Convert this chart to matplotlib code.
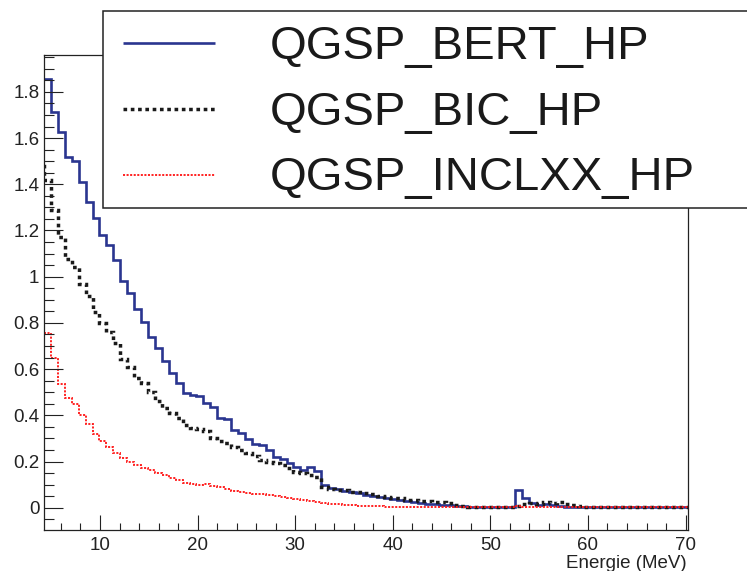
"""Energy spectra for three Geant4 physics lists, ROOT-style step histograms."""
import numpy as np
import matplotlib

matplotlib.use("Agg")
import matplotlib.pyplot as plt
from matplotlib.patches import Rectangle
from matplotlib.ticker import FuncFormatter, MultipleLocator

plt.rcParams["font.family"] = ["Liberation Sans", "DejaVu Sans"]

# 100 bins over 0-71 MeV; bins 5..98 are kept, bin 5 sits just left of the visible range
BIN_WIDTH = 0.71
EDGES = np.round(BIN_WIDTH * np.arange(5, 100), 2)

LABELS = ["QGSP_BERT_HP", "QGSP_BIC_HP", "QGSP_INCLXX_HP"]

BERT_HP = [
    1.856,
    1.856, 1.714, 1.628, 1.517, 1.501, 1.411, 1.325, 1.253, 1.181, 1.137,
    1.071, 0.983, 0.931, 0.859, 0.805, 0.740, 0.690, 0.635, 0.584, 0.538,
    0.498, 0.488, 0.484, 0.455, 0.436, 0.387, 0.385, 0.336, 0.322, 0.298,
    0.277, 0.273, 0.250, 0.221, 0.211, 0.195, 0.178, 0.165, 0.177, 0.157,
    0.098, 0.084, 0.080, 0.074, 0.066, 0.062, 0.055, 0.050, 0.046, 0.041,
    0.038, 0.033, 0.030, 0.026, 0.021, 0.018, 0.015, 0.012, 0.010, 0.008,
    0.007, 0.005, 0.004, 0.004, 0.003, 0.003, 0.002, 0.003, 0.075, 0.040,
    0.020, 0.012, 0.014, 0.010, 0.006, 0.004, 0.003, 0.003, 0.002, 0.003,
    0.002, 0.002, 0.002, 0.001, 0.002, 0.001, 0.001, 0.001, 0.001, 0.001,
    0.001, 0.001, 0.001,
]

BIC_HP = [
    1.487,
    1.420, 1.290, 1.170, 1.075, 1.040, 0.970, 0.915, 0.849, 0.800, 0.762,
    0.713, 0.645, 0.610, 0.560, 0.539, 0.500, 0.460, 0.430, 0.409, 0.387,
    0.358, 0.346, 0.342, 0.330, 0.300, 0.290, 0.279, 0.264, 0.250, 0.235,
    0.222, 0.208, 0.199, 0.192, 0.183, 0.171, 0.156, 0.149, 0.142, 0.134,
    0.091, 0.082, 0.077, 0.075, 0.070, 0.067, 0.062, 0.058, 0.052, 0.048,
    0.043, 0.040, 0.035, 0.032, 0.030, 0.029, 0.026, 0.024, 0.021, 0.012,
    0.007, 0.005, 0.003, 0.002, 0.002, 0.002, 0.002, 0.003, 0.008, 0.015,
    0.020, 0.017, 0.024, 0.020, 0.025, 0.018, 0.013, 0.008, 0.003, 0.002,
    0.002, 0.003, 0.002, 0.002, 0.002, 0.002, 0.002, 0.002, 0.002, 0.002,
    0.002, 0.002, 0.002,
]

INCLXX_HP = [
    0.833,
    0.755, 0.648, 0.535, 0.475, 0.450, 0.400, 0.362, 0.320, 0.290, 0.262,
    0.235, 0.215, 0.196, 0.185, 0.172, 0.163, 0.150, 0.142, 0.128, 0.118,
    0.108, 0.104, 0.100, 0.101, 0.096, 0.088, 0.080, 0.072, 0.066, 0.062,
    0.060, 0.058, 0.054, 0.050, 0.046, 0.040, 0.036, 0.032, 0.027, 0.023,
    0.019, 0.017, 0.014, 0.012, 0.011, 0.009, 0.008, 0.007, 0.006, 0.005,
    0.004, 0.004, 0.003, 0.003, 0.003, 0.002, 0.002, 0.002, 0.002, 0.002,
    0.002, 0.002, 0.002, 0.002, 0.002, 0.002, 0.002, 0.003, 0.006, 0.004,
    0.003, 0.003, 0.002, 0.002, 0.002, 0.002, 0.002, 0.002, 0.001, 0.001,
    0.001, 0.001, 0.001, 0.001, 0.001, 0.001, 0.001, 0.001, 0.001, 0.001,
    0.001, 0.001, 0.001,
]

STYLES = [
    dict(color="#2a3590", lw=1.9, ls="-"),
    dict(color="#1a1a1a", lw=2.5, ls=(0, (1.05, 1.05))),
    dict(color="#ff1a1a", lw=1.35, ls=(0, (1.1, 0.8))),
]

W, H = 747, 571
fig = plt.figure(figsize=(W / 100, H / 100), dpi=100)
ax = fig.add_axes([44.0 / W, 1 - 530 / H, (688.4 - 44.0) / W, (530 - 54.7) / H])

for vals, st in zip([BERT_HP, BIC_HP, INCLXX_HP], STYLES):
    ax.stairs(vals, EDGES, baseline=None, color=st["color"], linewidth=st["lw"],
              linestyle=st["ls"])

ax.set_xlim(EDGES[1], EDGES[-1])
ax.set_ylim(-0.0965, 1.961)

ax.xaxis.set_major_locator(MultipleLocator(10))
ax.xaxis.set_minor_locator(MultipleLocator(2))
ax.yaxis.set_major_locator(MultipleLocator(0.2))
ax.yaxis.set_minor_locator(MultipleLocator(0.05))
ax.yaxis.set_major_formatter(FuncFormatter(lambda v, p: f"{round(v, 2):g}"))

ax.tick_params(which="both", direction="in", top=False, right=False,
               labelsize=13.5, colors="#222222", width=0.8)
ax.tick_params(axis="x", which="major", length=10.8, pad=5)
ax.tick_params(axis="x", which="minor", length=5.3)
ax.tick_params(axis="y", which="major", length=13.7, pad=3.4)
ax.tick_params(axis="y", which="minor", length=7.2)
for sp in ax.spines.values():
    sp.set_linewidth(0.9)
    sp.set_color("#222222")

fig.text(687 / W, 1 - 567.7 / H, "Energie (MeV)", ha="right", va="baseline",
         fontsize=13.5, color="#222222")

# legend box drawn in pixel coordinates on top of everything
lax = fig.add_axes([0, 0, 1, 1])
lax.set_xlim(0, W)
lax.set_ylim(H, 0)
lax.axis("off")
lax.add_patch(Rectangle((103, 11), 700, 197, facecolor="white",
                        edgecolor="#222222", linewidth=1.1, clip_on=False))
for i, (label, st) in enumerate(zip(LABELS, STYLES)):
    y_line = 43.3 + 65.7 * i
    lax.plot([123, 215], [y_line, y_line], color=st["color"], linewidth=st["lw"],
             linestyle=st["ls"], solid_capstyle="butt", dash_capstyle="butt")
    lax.text(270, 59.5 + 65.3 * i, label, fontsize=34, va="baseline",
             ha="left", color="#1a1a1a")

fig.savefig("out.png", dpi=100)
plt.close(fig)
